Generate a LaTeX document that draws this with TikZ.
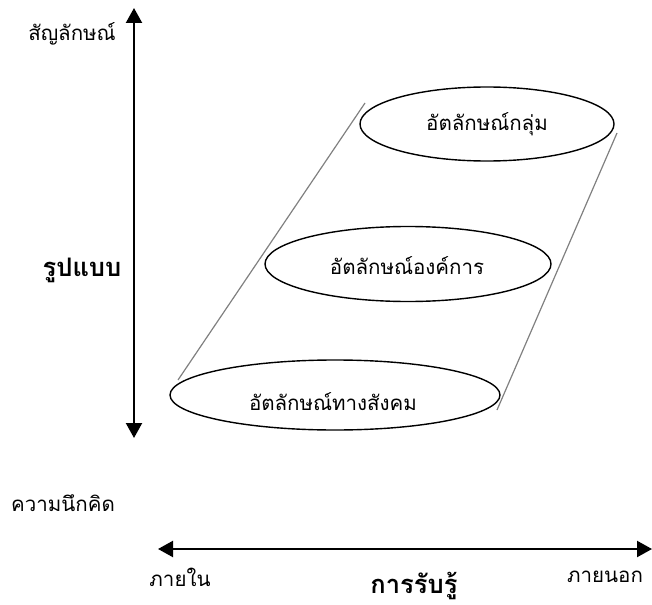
\documentclass[tikz,border=0pt]{standalone}
\usepackage{fontspec}
\newfontfamily\thaifont[Script=Thai]{Loma}
\usetikzlibrary{arrows.meta,positioning,shapes.geometric}

\begin{document}
\begin{tikzpicture}[
  x=1pt, y=-1pt,
  font=\thaifont\fontsize{20.5}{24}\selectfont,
  oval/.style={draw, ellipse, line width=1.4pt, inner sep=0pt},
  axis/.style={{Triangle[length=15pt,width=16pt]}-{Triangle[length=15pt,width=16pt]}, line width=2.2pt},
  guide/.style={draw=gray, line width=1.2pt},
  lbl/.style={inner sep=0pt},
  big/.style={lbl, font=\thaifont\bfseries\fontsize{25.5}{28}\selectfont}
]
\useasboundingbox (0,0) rectangle (652,604);
% ellipses
\node[oval, minimum width=254pt, minimum height=74pt] (grp) at (487,124) {};
\node[lbl] at (487,124) {อัตลักษณ์กลุ่ม};
\node[oval, minimum width=286pt, minimum height=75pt] (org) at (408,264) {};
\node[lbl] at (407,266) {อัตลักษณ์องค์การ};
\node[oval, minimum width=330pt, minimum height=70pt] (soc) at (335,395) {};
\node[lbl] at (333,402) {อัตลักษณ์ทางสังคม};
% side lines
\coordinate (gl1) at (178,380);
\coordinate (gl2) at (365,103);
\coordinate (gr1) at (617,133);
\coordinate (gr2) at (497,410);
\draw[guide] (gl1) -- (gl2);
\draw[guide] (gr1) -- (gr2);
% axes
\coordinate (vtop) at (134,8);
\coordinate (vbot) at (134,438);
\coordinate (hleft) at (158,549);
\coordinate (hright) at (652,549);
\draw[axis] (vbot) -- (vtop);
\draw[axis] (hleft) -- (hright);
% labels
\node[lbl] (sym) at (72,34) {สัญลักษณ์};
\node[big] (form) at (82,270) {รูปแบบ};
\node[lbl] (idea) at (63,503) {ความนึกคิด};
\node[lbl] (inn) at (180,577) {ภายใน};
\node[big] (perc) at (414,586) {การรับรู้};
\node[lbl] (out) at (605,577) {ภายนอก};
\end{tikzpicture}
\end{document}
